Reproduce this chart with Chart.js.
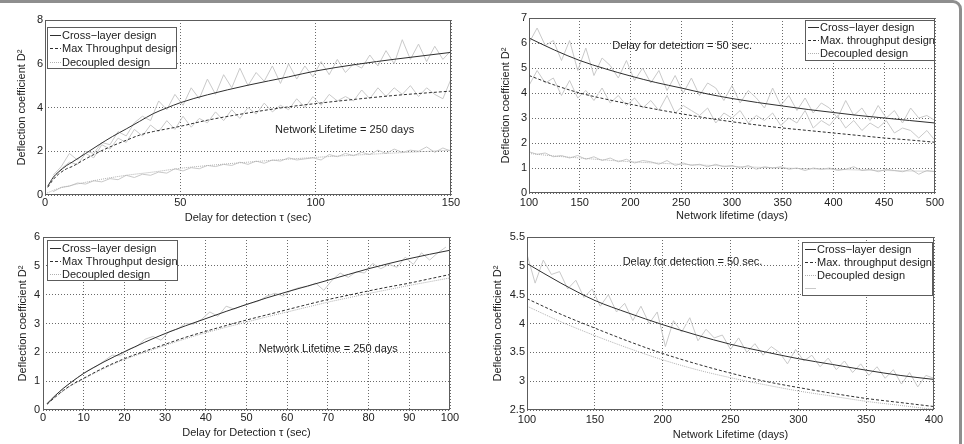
<!DOCTYPE html>
<html>
<head>
<meta charset="utf-8">
<script src="https://cdn.jsdelivr.net/npm/chart.js@4.4.1/dist/chart.umd.min.js"></script>
<style>
  body { margin: 0; background: #fff; width: 964px; height: 444px; overflow: hidden; position: relative; }
  .frame { position: absolute; left: -10px; top: 0; width: 966px; height: 500px; border: 3px solid #8e8e8e; border-radius: 9px; }
  canvas { position: absolute; }
</style>
</head>
<body>
<div class="frame"></div>
<canvas id="c1" width="482" height="230" style="left:0;top:0"></canvas>
<canvas id="c2" width="482" height="230" style="left:482px;top:0"></canvas>
<canvas id="c3" width="482" height="222" style="left:0;top:222px"></canvas>
<canvas id="c4" width="482" height="222" style="left:482px;top:222px"></canvas>
<script>
// ---- plot 1: D^2 vs delay, lifetime 250 days ----
const p1X = [1, 3, 5, 8, 10, 15, 20, 25, 30, 35, 40, 45, 50, 60, 75, 90, 100, 115, 130, 150];
const p1Cross = [0.4, 0.8, 1.05, 1.35, 1.5, 1.9, 2.3, 2.68, 3.02, 3.37, 3.72, 3.98, 4.22, 4.58, 5.02, 5.4, 5.67, 5.97, 6.22, 6.52];
const p1Max = [0.35, 0.7, 0.95, 1.2, 1.3, 1.65, 1.97, 2.25, 2.5, 2.74, 2.9, 3.02, 3.14, 3.42, 3.75, 4.03, 4.18, 4.38, 4.56, 4.75];
const p1DecX = [0, 5, 10, 20, 30, 40, 50, 65, 80, 100, 120, 150];
const p1Dec = [0.05, 0.3, 0.45, 0.7, 0.9, 1.05, 1.22, 1.4, 1.55, 1.72, 1.86, 2.05];
const p1SimX = [3, 6, 9, 12, 15, 18, 21, 24, 27, 30, 33, 36, 39, 42, 45, 48, 51, 54, 57, 60, 63, 66, 69, 72, 75,
  78, 81, 84, 87, 90, 93, 96, 99, 102, 105, 108, 111, 114, 117, 120, 123, 126, 129, 132, 135, 138, 141, 144, 147, 150];
const p1SimCross = [0.9, 1.3, 1.9, 1.6, 2.0, 1.9, 2.4, 2.3, 2.9, 2.7, 3.3, 3.6, 3.4, 4.3, 3.9, 4.6, 4.1, 4.9, 4.4, 5.3,
  4.6, 5.5, 4.9, 5.8, 5.0, 5.6, 5.2, 5.9, 5.1, 6.0, 5.3, 5.9, 5.4, 6.1, 5.5, 6.2, 5.6, 6.0, 5.8, 6.4,
  5.9, 6.6, 6.0, 7.1, 6.2, 6.9, 6.1, 6.8, 6.2, 6.6];
const p1SimMax = [0.8, 1.2, 1.5, 1.4, 1.9, 1.7, 2.3, 2.1, 2.6, 2.4, 3.0, 2.7, 3.2, 2.9, 3.4, 3.0, 3.6, 3.1, 3.5, 3.3,
  3.8, 3.4, 3.9, 3.5, 4.0, 3.7, 4.2, 3.8, 4.1, 3.9, 4.4, 4.0, 4.5, 4.1, 4.6, 4.3, 4.5, 4.3, 4.8, 4.4,
  4.9, 4.5, 4.9, 4.6, 5.0, 4.5, 4.9, 4.6, 4.4, 5.3];
const p1SimDec = [0.15, 0.35, 0.4, 0.55, 0.5, 0.65, 0.6, 0.75, 0.7, 0.9, 0.8, 0.95, 0.9, 1.05, 1.0, 1.2, 1.1, 1.25, 1.2, 1.35,
  1.3, 1.4, 1.35, 1.5, 1.4, 1.55, 1.45, 1.6, 1.55, 1.7, 1.6, 1.65, 1.7, 1.6, 1.85, 1.75, 1.9, 1.8, 1.95, 1.85,
  2.05, 1.9, 2.1, 1.95, 2.05, 2.0, 2.2, 1.95, 2.15, 2.0];
const p1XTicks = [0, 50, 100, 150];
const p1YTicks = [0, 2, 4, 6, 8];

// ---- plot 2: D^2 vs lifetime, delay 50 s ----
const p2X = [100, 125, 150, 175, 200, 225, 250, 275, 300, 325, 350, 375, 400, 425, 450, 475, 500];
const p2Cross = [6.2, 5.72, 5.3, 4.97, 4.68, 4.42, 4.2, 3.97, 3.78, 3.62, 3.48, 3.34, 3.22, 3.1, 3.0, 2.9, 2.8];
const p2Max = [4.7, 4.32, 4.0, 3.76, 3.55, 3.35, 3.17, 3.0, 2.85, 2.72, 2.6, 2.5, 2.4, 2.3, 2.2, 2.12, 2.03];
const p2Dec = [1.58, 1.48, 1.4, 1.32, 1.25, 1.2, 1.15, 1.11, 1.07, 1.03, 1.0, 0.97, 0.95, 0.92, 0.9, 0.88, 0.87];
const p2SimX = [100, 108, 116, 124, 132, 140, 148, 156, 164, 172, 180, 188, 196, 204, 212, 220, 228, 236, 244, 252,
  260, 268, 276, 284, 292, 300, 308, 316, 324, 332, 340, 348, 356, 364, 372, 380, 388, 396, 404, 412,
  420, 428, 436, 444, 452, 460, 468, 476, 484, 492, 500];
const p2SimCross = [6.0, 6.6, 5.9, 6.1, 5.3, 6.1, 4.9, 5.8, 4.7, 5.4, 5.1, 4.6, 5.3, 4.5, 5.0, 4.4, 4.9, 4.1, 4.7, 4.0,
  4.6, 3.9, 4.4, 4.2, 3.7, 4.3, 3.6, 4.1, 3.8, 3.4, 4.2, 3.5, 3.9, 3.3, 3.8, 3.2, 3.6, 3.4, 3.0, 3.7,
  3.1, 3.4, 2.9, 3.5, 3.0, 3.3, 2.8, 3.4, 3.0, 3.1, 2.9];
const p2SimMax = [4.3, 4.9, 4.4, 4.6, 3.9, 4.5, 3.8, 4.1, 3.7, 4.2, 3.6, 3.9, 3.5, 3.8, 3.4, 3.7, 3.3, 3.9, 3.2, 3.5,
  3.3, 3.1, 3.4, 2.8, 3.2, 3.0, 3.3, 2.8, 3.1, 2.9, 3.2, 2.7, 3.0, 2.8, 3.3, 2.6, 2.9, 2.7, 3.1, 2.6,
  2.9, 2.5, 2.8, 2.6, 2.9, 2.4, 2.6, 2.5, 2.2, 2.5, 2.1];
const p2SimDec = [1.65, 1.55, 1.6, 1.45, 1.5, 1.4, 1.5, 1.35, 1.45, 1.3, 1.4, 1.25, 1.35, 1.2, 1.3, 1.25, 1.15, 1.3, 1.1, 1.2,
  1.1, 1.15, 1.05, 1.15, 1.05, 1.1, 1.0, 1.1, 0.95, 1.05, 1.0, 1.05, 0.95, 1.0, 0.9, 1.0, 0.95, 1.0, 0.9, 0.95,
  1.05, 0.9, 0.95, 0.85, 0.95, 0.9, 0.85, 0.95, 0.75, 0.9, 0.85];
const p2XTicks = [100, 150, 200, 250, 300, 350, 400, 450, 500];
const p2YTicks = [0, 1, 2, 3, 4, 5, 6, 7];

// ---- plot 3: D^2 vs delay (0-100 s), lifetime 250 days ----
const p3X = [1, 3, 5, 7, 10, 15, 20, 25, 30, 35, 40, 45, 50, 55, 60, 65, 70, 75, 80, 85, 90, 95, 100];
const p3Cross = [0.22, 0.5, 0.75, 0.97, 1.27, 1.67, 2.02, 2.35, 2.65, 2.92, 3.17, 3.42, 3.66, 3.89, 4.1, 4.3, 4.5, 4.7, 4.9, 5.08, 5.25, 5.4, 5.54];
const p3Max = [0.2, 0.45, 0.68, 0.87, 1.1, 1.47, 1.78, 2.04, 2.28, 2.52, 2.73, 2.93, 3.12, 3.3, 3.48, 3.66, 3.83, 3.98, 4.13, 4.27, 4.4, 4.55, 4.7];
const p3Dec = [0.2, 0.44, 0.66, 0.85, 1.08, 1.44, 1.75, 2.0, 2.24, 2.47, 2.68, 2.87, 3.05, 3.23, 3.4, 3.57, 3.74, 3.89, 4.04, 4.18, 4.32, 4.45, 4.58];
const p3SimX = [1, 3, 5, 7, 9, 11, 13, 15, 17, 19, 21, 23, 25, 27, 29, 31, 33, 35, 37, 39, 41, 43, 45, 47, 49,
  51, 53, 55, 57, 59, 61, 63, 65, 67, 69, 71, 73, 75, 77, 79, 81, 83, 85, 87, 89, 91, 93, 95, 97, 99];
const p3SimCross = [0.22, 0.5, 0.76, 0.97, 1.17, 1.37, 1.5, 1.7, 1.9, 1.88, 2.1, 2.2, 2.45, 2.55, 2.42, 2.72, 2.8, 3.0, 2.98, 3.15,
  3.4, 3.25, 3.6, 3.5, 3.62, 3.7, 3.78, 3.95, 4.05, 3.95, 4.15, 4.25, 4.28, 4.4, 4.15, 4.5, 4.75, 4.6, 4.8, 4.75,
  5.08, 4.9, 5.05, 4.95, 5.3, 5.05, 5.45, 5.2, 5.45, 5.65];
const p3XTicks = [0, 10, 20, 30, 40, 50, 60, 70, 80, 90, 100];
const p3YTicks = [0, 1, 2, 3, 4, 5, 6];

// ---- plot 4: D^2 vs lifetime (100-400 days), delay 50 s ----
const p4X = [100, 125, 150, 175, 200, 225, 250, 275, 300, 325, 350, 375, 400];
const p4Cross = [5.04, 4.7, 4.4, 4.18, 3.98, 3.8, 3.64, 3.51, 3.39, 3.29, 3.19, 3.1, 3.03];
const p4Max = [4.43, 4.16, 3.92, 3.69, 3.48, 3.3, 3.14, 3.0, 2.89, 2.79, 2.7, 2.63, 2.56];
const p4Dec = [4.3, 4.03, 3.79, 3.57, 3.37, 3.2, 3.06, 2.94, 2.83, 2.74, 2.65, 2.58, 2.51];
const p4SimX = [100, 106, 112, 118, 124, 130, 136, 142, 148, 154, 160, 166, 172, 178, 184, 190, 196, 202, 208, 214,
  220, 226, 232, 238, 244, 250, 256, 262, 268, 274, 280, 286, 292, 298, 304, 310, 316, 322, 328, 334,
  340, 346, 352, 358, 364, 370, 376, 382, 388, 394, 400];
const p4SimCross = [5.2, 4.7, 5.1, 4.85, 4.9, 4.6, 4.75, 4.45, 4.6, 4.3, 4.5, 4.2, 4.35, 4.05, 4.3, 4.0, 4.2, 3.6, 4.05, 3.85,
  4.1, 3.7, 3.9, 3.75, 3.8, 3.55, 3.75, 3.5, 3.65, 3.45, 3.6, 3.5, 3.3, 3.55, 3.35, 3.45, 3.25, 3.4, 3.2, 3.35,
  3.15, 3.3, 3.1, 3.25, 3.05, 3.2, 2.95, 3.15, 2.9, 3.1, 3.05];
const p4XTicks = [100, 150, 200, 250, 300, 350, 400];
const p4YTicks = [2.5, 3, 3.5, 4, 4.5, 5, 5.5];

const yTitle = 'Deflection coefficient D²';

Chart.defaults.font.family = "'Liberation Sans', Arial, sans-serif";
Chart.defaults.font.size = 11;
Chart.defaults.color = '#222';

const INK = '#2e2e2e';
const PALE = '#c9c9c9';
const GRID = '#6a6a6a';

function pts(xs, ys) {
  return ys.map((y, i) => ({ x: xs[i], y: y }));
}

function curve(label, xs, ys, kind) {
  const s = { label: label, data: pts(xs, ys), borderWidth: 1, pointRadius: 0, fill: false };
  if (kind === 'cross') { s.borderColor = INK; s.cubicInterpolationMode = 'monotone'; }
  if (kind === 'max') { s.borderColor = INK; s.borderDash = [3, 2]; s.cubicInterpolationMode = 'monotone'; }
  if (kind === 'dec') { s.borderColor = '#b0b0b0'; s.borderDash = [1, 1]; s.cubicInterpolationMode = 'monotone'; }
  if (kind === 'sim') { s.borderColor = PALE; }
  return s;
}

// axes box, legend inside the axes and the text note (matlab style)
const matlabBox = {
  id: 'matlabBox',
  afterDatasetsDraw(chart, args, opts) {
    const { ctx, chartArea: a, scales } = chart;
    ctx.save();
    ctx.strokeStyle = '#5c5c5c';
    ctx.lineWidth = 1;
    ctx.strokeRect(a.left + 0.5, a.top + 0.5, a.right - a.left - 1, a.bottom - a.top - 1);
    ctx.font = "11px 'Liberation Sans', Arial, sans-serif";
    ctx.textBaseline = 'middle';
    ctx.fillStyle = '#222';
    if (opts.note) {
      ctx.fillText(opts.note.text, scales.x.getPixelForValue(opts.note.x), scales.y.getPixelForValue(opts.note.y));
    }
    const L = opts.legend;
    const x0 = L.side === 'left' ? a.left + L.dx : a.right - L.dx - L.w;
    const y0 = a.top + L.dy;
    ctx.fillStyle = '#fff';
    ctx.fillRect(x0, y0, L.w, L.h);
    ctx.strokeRect(x0 + 0.5, y0 + 0.5, L.w, L.h);
    L.rows.forEach((di, k) => {
      const ds = chart.data.datasets[di];
      const y = Math.round(y0 + L.first + k * L.step) + 0.5;
      ctx.beginPath();
      ctx.setLineDash(ds.borderDash || []);
      ctx.strokeStyle = ds.borderColor;
      ctx.moveTo(x0 + 3, y);
      ctx.lineTo(x0 + 14, y);
      ctx.stroke();
      ctx.setLineDash([]);
      ctx.strokeStyle = '#5c5c5c';
      ctx.fillStyle = '#222';
      ctx.fillText(ds.label, x0 + 15, y);
    });
    ctx.restore();
  }
};

function makeChart(id, datasets, c) {
  new Chart(document.getElementById(id), {
    type: 'line',
    data: { datasets: datasets },
    options: {
      responsive: false,
      animation: false,
      devicePixelRatio: 1,
      events: [],
      layout: { padding: c.pad },
      plugins: {
        legend: { display: false },
        tooltip: { enabled: false },
        matlabBox: { legend: c.legend, note: c.note }
      },
      scales: {
        x: {
          type: 'linear', min: c.xTicks[0], max: c.xTicks[c.xTicks.length - 1],
          afterBuildTicks: (s) => { s.ticks = c.xTicks.map((v) => ({ value: v })); },
          afterFit: (s) => { s.height = c.xh; },
          ticks: { padding: c.xpad, maxRotation: 0, autoSkip: false, callback: (v) => String(v) },
          grid: { color: GRID, drawTicks: false },
          border: { display: false, dash: [1, 2] },
          title: { display: true, text: c.xTitle, padding: { top: 0, bottom: c.xtp } }
        },
        y: {
          min: c.yTicks[0], max: c.yTicks[c.yTicks.length - 1],
          afterBuildTicks: (s) => { s.ticks = c.yTicks.map((v) => ({ value: v })); },
          afterFit: (s) => { s.width = c.yw; },
          ticks: { padding: c.ypad, autoSkip: false, callback: (v) => String(v) },
          grid: { color: GRID, drawTicks: false },
          border: { display: false, dash: [1, 2] },
          title: { display: true, text: yTitle, padding: { top: c.ytp, bottom: 0 } }
        }
      }
    },
    plugins: [matlabBox]
  });
}

makeChart('c1', [
  curve('Cross−layer design', p1X, p1Cross, 'cross'),
  curve('Max Throughput design', p1X, p1Max, 'max'),
  curve('Decoupled design', p1DecX, p1Dec, 'dec'),
  curve('', p1SimX, p1SimCross, 'sim'),
  curve('', p1SimX, p1SimMax, 'sim'),
  curve('', p1SimX, p1SimDec, 'sim')
], {
  xTicks: p1XTicks, yTicks: p1YTicks, xTitle: 'Delay for detection τ (sec)',
  pad: { top: 20, right: 31, left: 0, bottom: 0 }, xh: 35, yw: 45, xpad: 1, ypad: 2, xtp: 5, ytp: 15,
  legend: { side: 'left', dx: 2, dy: 7, w: 129, h: 41, first: 8, step: 13.3, rows: [0, 1, 2] },
  note: { text: 'Network Lifetime = 250 days', x: 85, y: 2.97 }
});

makeChart('c2', [
  curve('Cross−layer design', p2X, p2Cross, 'cross'),
  curve('Max. throughput design', p2X, p2Max, 'max'),
  curve('Decoupled design', p2X, p2Dec, 'dec'),
  curve('', p2SimX, p2SimCross, 'sim'),
  curve('', p2SimX, p2SimMax, 'sim'),
  curve('', p2SimX, p2SimDec, 'sim')
], {
  xTicks: p2XTicks, yTicks: p2YTicks, xTitle: 'Network lifetime (days)',
  pad: { top: 18, right: 29, left: 0, bottom: 0 }, xh: 37, yw: 47, xpad: 3, ypad: 2, xtp: 7, ytp: 17,
  legend: { side: 'right', dx: 1, dy: 2, w: 129, h: 40, first: 7.3, step: 13, rows: [0, 1, 2] },
  note: { text: 'Delay for detection = 50 sec.', x: 182, y: 5.89 }
});

makeChart('c3', [
  curve('Cross−layer design', p3X, p3Cross, 'cross'),
  curve('Max Throughput design', p3X, p3Max, 'max'),
  curve('Decoupled design', p3X, p3Dec, 'dec'),
  curve('', p3SimX, p3SimCross, 'sim')
], {
  xTicks: p3XTicks, yTicks: p3YTicks, xTitle: 'Delay for Detection τ (sec)',
  pad: { top: 15, right: 32, left: 0, bottom: 0 }, xh: 34, yw: 43, xpad: 1, ypad: 3, xtp: 4, ytp: 16,
  legend: { side: 'left', dx: 4, dy: 3, w: 130, h: 40, first: 7.7, step: 13.3, rows: [0, 1, 2] },
  note: { text: 'Network Lifetime = 250 days', x: 53, y: 2.12 }
});

makeChart('c4', [
  curve('Cross−layer design', p4X, p4Cross, 'cross'),
  curve('Max. throughput design', p4X, p4Max, 'max'),
  curve('Decoupled design', p4X, p4Dec, 'dec'),
  curve('', p4SimX, p4SimCross, 'sim')
], {
  xTicks: p4XTicks, yTicks: p4YTicks, xTitle: 'Network Lifetime (days)',
  pad: { top: 15, right: 30, left: 0, bottom: 0 }, xh: 34, yw: 45, xpad: 3, ypad: 2, xtp: 2, ytp: 9,
  legend: { side: 'right', dx: 2, dy: 5, w: 130, h: 53, first: 7.3, step: 12.8, rows: [0, 1, 2, 3] },
  note: { text: 'Delay for detection = 50 sec.', x: 170.5, y: 5.07 }
});
</script>
</body>
</html>
